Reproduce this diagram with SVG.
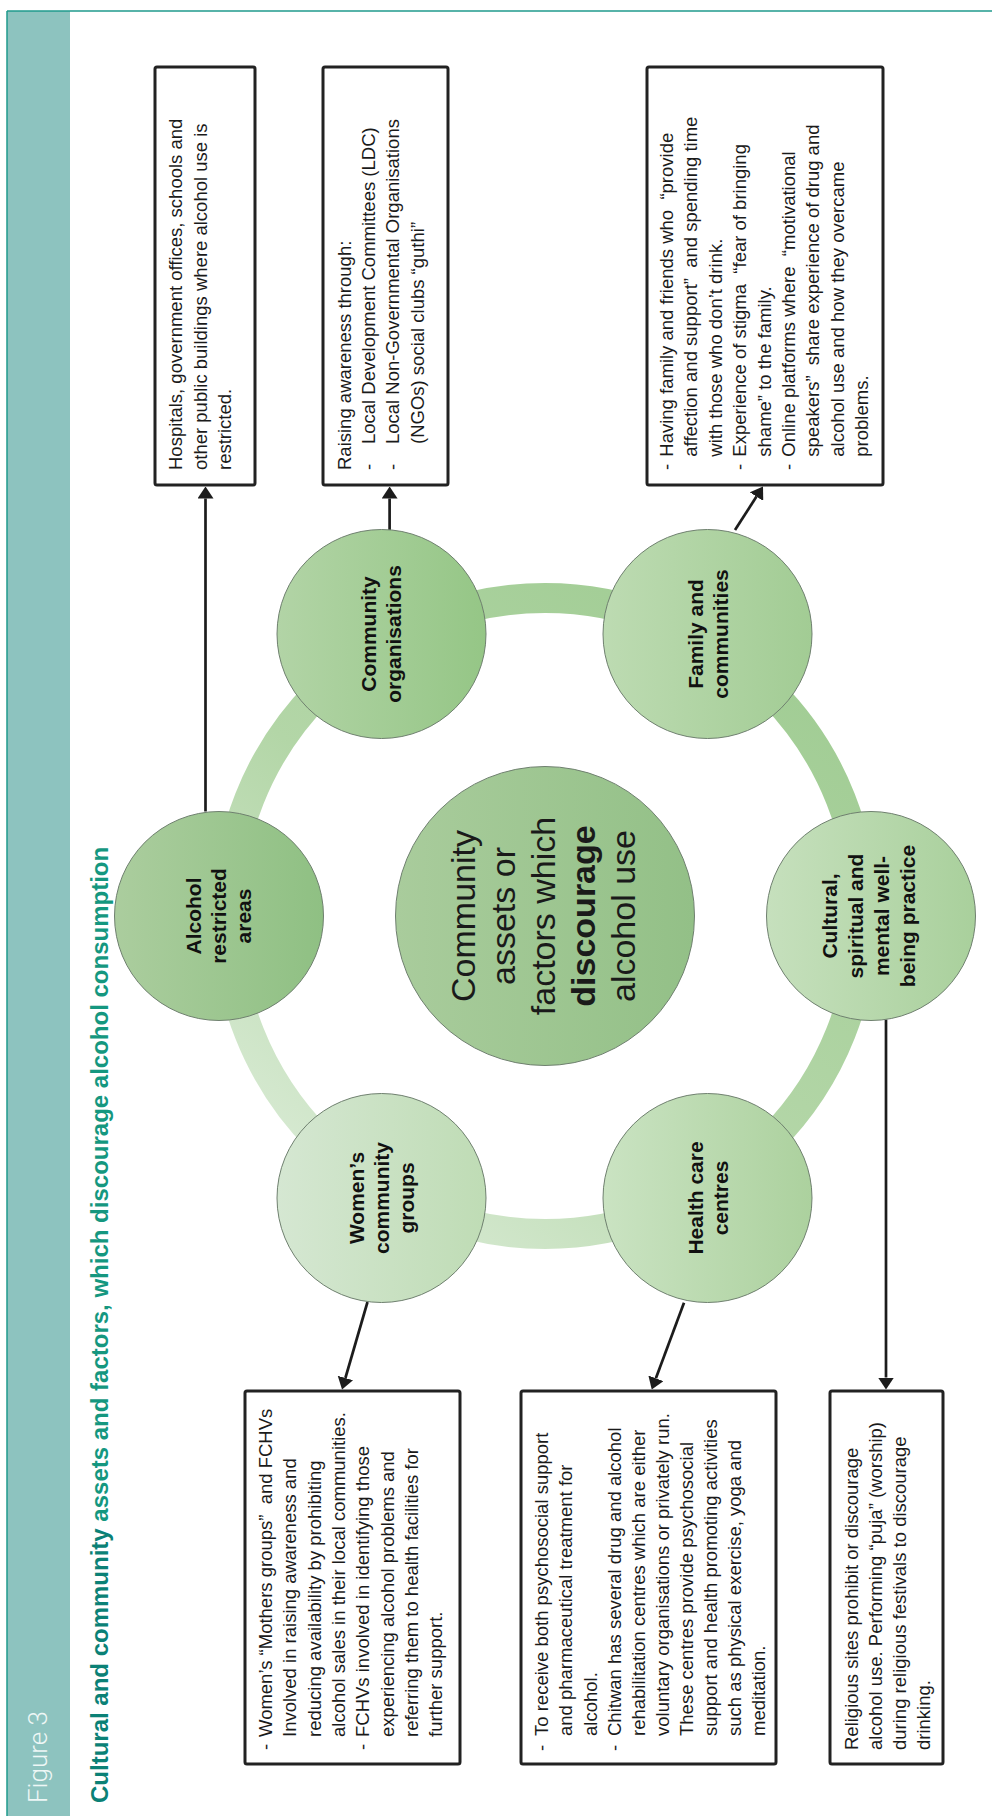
<svg xmlns="http://www.w3.org/2000/svg" width="992" height="1816" viewBox="0 0 992 1816">
<defs>
<style>
.bt{font-family:"Liberation Sans",Arial,sans-serif;font-size:18.5px;fill:#1a1a1a}
.lb{font-family:"Liberation Sans",Arial,sans-serif;font-weight:bold;font-size:21px;text-anchor:middle;fill:#111}
.ct{font-family:"Liberation Sans",Arial,sans-serif;font-size:34px;text-anchor:middle;fill:#1a1a1a}
.box{fill:#fff;stroke:#222;stroke-width:3}
.node{stroke:#6f806f;stroke-width:1}
.conn{stroke:#1c1c1c;stroke-width:2.7;fill:none;marker-end:url(#ah)}
</style>
<marker id="ah" markerUnits="userSpaceOnUse" markerWidth="12" markerHeight="16" refX="0" refY="8" orient="auto"><path d="M0,0 L12,8 L0,16 z" fill="#1c1c1c"/></marker>
<linearGradient id="ringg" gradientUnits="userSpaceOnUse" x1="260" y1="1180" x2="760" y2="560"><stop offset="0" stop-color="#dbecd7"/><stop offset="0.45" stop-color="#b3d6a7"/><stop offset="1" stop-color="#9ecb91"/></linearGradient>
<linearGradient id="gAl" x1="0" y1="0" x2="1" y2="0"><stop offset="0" stop-color="#abcd9e"/><stop offset="1" stop-color="#8fc083"/></linearGradient>
<linearGradient id="gCo" x1="0" y1="0" x2="1" y2="0"><stop offset="0" stop-color="#b2d4a6"/><stop offset="1" stop-color="#95c686"/></linearGradient>
<linearGradient id="gFa" x1="0" y1="0" x2="1" y2="0"><stop offset="0" stop-color="#bddbb2"/><stop offset="1" stop-color="#a2cc94"/></linearGradient>
<linearGradient id="gCu" x1="0" y1="0" x2="1" y2="0"><stop offset="0" stop-color="#c6e0bd"/><stop offset="1" stop-color="#a9d09c"/></linearGradient>
<linearGradient id="gHe" x1="0" y1="0" x2="1" y2="0"><stop offset="0" stop-color="#cae3c2"/><stop offset="1" stop-color="#acd19e"/></linearGradient>
<linearGradient id="gWo" x1="0" y1="0" x2="1" y2="0"><stop offset="0" stop-color="#d5e7d2"/><stop offset="1" stop-color="#bfdcb5"/></linearGradient>
<linearGradient id="gCe" x1="0" y1="0" x2="1" y2="0"><stop offset="0" stop-color="#a9cc9c"/><stop offset="1" stop-color="#93c087"/></linearGradient>
</defs>

<g id="frame">
<rect x="7" y="11" width="63" height="1805" fill="#8dc3bf"/>
<line x1="7" y1="11" x2="7" y2="1816" stroke="#1f9a8d" stroke-width="1.5"/>
<line x1="7" y1="11" x2="992" y2="11" stroke="#1f9a8d" stroke-width="1.5"/>
<g transform="rotate(-90)">
<text x="-1803" y="47" font-family="Roboto,'Liberation Sans',sans-serif" font-weight="300" font-size="26" fill="#eef7f6">Figure 3</text>
<text x="-1803" y="108" font-family="'Liberation Sans',Arial,sans-serif" font-weight="bold" font-size="24"><tspan fill="#0b8176">Cultural and community</tspan><tspan fill="#15977f"> assets and factors, which discourage alcohol consumption</tspan></text>
</g>
</g>

<circle id="ring" cx="545" cy="916" r="318" fill="none" stroke="url(#ringg)" stroke-width="30"/>

<g id="connectors">
<line class="conn" x1="205.5" y1="811.5" x2="205.5" y2="498.5"/>
<line class="conn" x1="389.6" y1="530" x2="389.6" y2="498.5"/>
<line class="conn" x1="735" y1="530" x2="756.5" y2="496.6"/>
<line class="conn" x1="367.5" y1="1302" x2="345.4" y2="1378"/>
<line class="conn" x1="684" y1="1302.7" x2="655.9" y2="1378.3"/>
<line class="conn" x1="886" y1="1019.5" x2="886" y2="1377.5"/>
</g>

<g id="node-center">
<circle class="node" cx="545" cy="916" r="149.5" fill="url(#gCe)"/>
<g transform="rotate(-90)">
<text class="ct" x="-916" y="474.5">Community</text>
<text class="ct" x="-916" y="514.6">assets or</text>
<text class="ct" x="-916" y="554.7">factors which</text>
<text class="ct" x="-916" y="594.8" font-weight="bold">discourage</text>
<text class="ct" x="-916" y="635">alcohol use</text>
</g>
</g>

<g id="node-alcohol">
<circle class="node" cx="219" cy="916" r="104.5" fill="url(#gAl)"/>
<g transform="rotate(-90)">
<text class="lb" x="-916" y="201">Alcohol</text>
<text class="lb" x="-916" y="226">restricted</text>
<text class="lb" x="-916" y="251">areas</text>
</g>
</g>

<g id="node-community">
<circle class="node" cx="381.5" cy="634" r="104.5" fill="url(#gCo)"/>
<g transform="rotate(-90)">
<text class="lb" x="-634" y="376">Community</text>
<text class="lb" x="-634" y="401">organisations</text>
</g>
</g>

<g id="node-family">
<circle class="node" cx="707.5" cy="634" r="104.5" fill="url(#gFa)"/>
<g transform="rotate(-90)">
<text class="lb" x="-634" y="702.5">Family and</text>
<text class="lb" x="-634" y="727.5">communities</text>
</g>
</g>

<g id="node-cultural">
<circle class="node" cx="871" cy="916" r="104.5" fill="url(#gCu)"/>
<g transform="rotate(-90)">
<text class="lb" x="-916" y="837">Cultural,</text>
<text class="lb" x="-916" y="863">spiritual and</text>
<text class="lb" x="-916" y="889">mental well-</text>
<text class="lb" x="-916" y="915">being practice</text>
</g>
</g>

<g id="node-health">
<circle class="node" cx="707.5" cy="1198" r="104.5" fill="url(#gHe)"/>
<g transform="rotate(-90)">
<text class="lb" x="-1198" y="702.5">Health care</text>
<text class="lb" x="-1198" y="727.5">centres</text>
</g>
</g>

<g id="node-women">
<circle class="node" cx="381.5" cy="1198" r="104.5" fill="url(#gWo)"/>
<g transform="rotate(-90)">
<text class="lb" x="-1198" y="363.5">Women’s</text>
<text class="lb" x="-1198" y="388.5">community</text>
<text class="lb" x="-1198" y="413.5">groups</text>
</g>
</g>

<g id="box-hospitals">
<rect class="box" x="155" y="67" width="100" height="418" rx="2"/>
<g transform="rotate(-90)">
<text class="bt" x="-470" y="182.3">Hospitals, government offices, schools and</text>
<text class="bt" x="-470" y="206.5">other public buildings where alcohol use is</text>
<text class="bt" x="-470" y="230.7">restricted.</text>
</g>
</g>

<g id="box-community">
<rect class="box" x="323" y="67" width="125" height="418" rx="2"/>
<g transform="rotate(-90)">
<text class="bt" x="-470" y="350.7">Raising awareness through:</text>
<text class="bt" x="-470" y="375">-</text>
<text class="bt" x="-444" y="375">Local Development Committees (LDC)</text>
<text class="bt" x="-470" y="399.3">-</text>
<text class="bt" x="-444" y="399.3">Local Non-Governmental Organisations</text>
<text class="bt" x="-444" y="423.5">(NGOs) social clubs “guthi”</text>
</g>
</g>

<g id="box-family">
<rect class="box" x="647" y="67" width="236" height="418" rx="2"/>
<g transform="rotate(-90)">
<text class="bt" x="-470" y="673">-</text>
<text class="bt" x="-456.7" y="673" xml:space="preserve">Having family and friends who  “provide</text>
<text class="bt" x="-456.7" y="697.4" xml:space="preserve">affection and support”  and spending time</text>
<text class="bt" x="-456.7" y="721.8">with those who don’t drink.</text>
<text class="bt" x="-470" y="746.2">-</text>
<text class="bt" x="-456.7" y="746.2" xml:space="preserve">Experience of stigma  “fear of bringing</text>
<text class="bt" x="-456.7" y="770.6">shame” to the family.</text>
<text class="bt" x="-470" y="795">-</text>
<text class="bt" x="-456.7" y="795" xml:space="preserve">Online platforms where  “motivational</text>
<text class="bt" x="-456.7" y="819.4" xml:space="preserve">speakers”  share experience of drug and</text>
<text class="bt" x="-456.7" y="843.8">alcohol use and how they overcame</text>
<text class="bt" x="-456.7" y="868.2">problems.</text>
</g>
</g>

<g id="box-women">
<rect class="box" x="245" y="1391" width="215" height="373" rx="2"/>
<g transform="rotate(-90)">
<text class="bt" x="-1750" y="272">-</text>
<text class="bt" x="-1737" y="272" xml:space="preserve">Women’s “Mothers groups”  and FCHVs</text>
<text class="bt" x="-1737" y="296.3">Involved in raising awareness and</text>
<text class="bt" x="-1737" y="320.6">reducing availability by prohibiting</text>
<text class="bt" x="-1737" y="344.9">alcohol sales in their local communities.</text>
<text class="bt" x="-1750" y="369.2">-</text>
<text class="bt" x="-1737" y="369.2">FCHVs involved in identifying those</text>
<text class="bt" x="-1737" y="393.5">experiencing alcohol problems and</text>
<text class="bt" x="-1737" y="417.8">referring them to health facilities for</text>
<text class="bt" x="-1737" y="442.1">further support.</text>
</g>
</g>

<g id="box-health">
<rect class="box" x="521" y="1391" width="255" height="373" rx="2"/>
<g transform="rotate(-90)">
<text class="bt" x="-1751" y="548.3">-</text>
<text class="bt" x="-1736" y="548.3">To receive both psychosocial support</text>
<text class="bt" x="-1736" y="572.4">and pharmaceutical treatment for</text>
<text class="bt" x="-1736" y="596.5">alcohol.</text>
<text class="bt" x="-1751" y="620.6">-</text>
<text class="bt" x="-1736" y="620.6">Chitwan has several drug and alcohol</text>
<text class="bt" x="-1736" y="644.7">rehabilitation centres which are either</text>
<text class="bt" x="-1736" y="668.8">voluntary organisations or privately run.</text>
<text class="bt" x="-1736" y="692.9">These centres provide psychosocial</text>
<text class="bt" x="-1736" y="717">support and health promoting activities</text>
<text class="bt" x="-1736" y="741.1">such as physical exercise, yoga and</text>
<text class="bt" x="-1736" y="765.2">meditation.</text>
</g>
</g>

<g id="box-religious">
<rect class="box" x="830" y="1391" width="113" height="373" rx="2"/>
<g transform="rotate(-90)">
<text class="bt" x="-1750" y="858.3">Religious sites prohibit or discourage</text>
<text class="bt" x="-1750" y="882.3">alcohol use. Performing “puja” (worship)</text>
<text class="bt" x="-1750" y="906.3">during religious festivals to discourage</text>
<text class="bt" x="-1750" y="930.3">drinking.</text>
</g>
</g>
</svg>
